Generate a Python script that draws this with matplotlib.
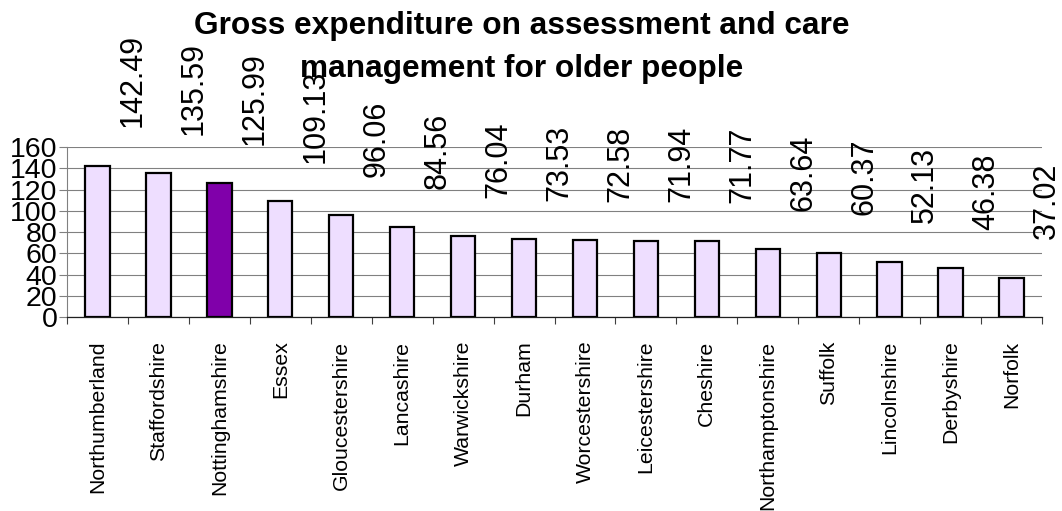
import numpy as np
import matplotlib
matplotlib.use("Agg")
import matplotlib.pyplot as plt

plt.rcParams["font.family"] = ["Liberation Sans", "DejaVu Sans"]

# spend per council, highest first
councils = ["Northumberland", "Staffordshire", "Nottinghamshire", "Essex",
            "Gloucestershire", "Lancashire", "Warwickshire", "Durham",
            "Worcestershire", "Leicestershire", "Cheshire", "Northamptonshire",
            "Suffolk", "Lincolnshire", "Derbyshire", "Norfolk"]
spend = [142.49, 135.59, 125.99, 109.13, 96.06, 84.56, 76.04, 73.53,
         72.58, 71.94, 71.77, 63.64, 60.37, 52.13, 46.38, 37.02]
highlight = "Nottinghamshire"

LIGHT = "#EEDEFF"
DARK = "#8000AA"

fig = plt.figure(figsize=(10.62, 5.11), dpi=100)
ax = fig.add_axes([67 / 1062, 194 / 511, 975 / 1062, 170 / 511])

x = np.arange(len(councils))
colors = [DARK if c == highlight else LIGHT for c in councils]
ax.bar(x, spend, width=0.4, color=colors, edgecolor="black", linewidth=1.6, zorder=3)

# value labels sit up and to the right of each bar
for xi, v in zip(x, spend):
    ax.annotate(f"{v:.2f}", xy=(xi, v), xytext=(25.5, 27.5), textcoords="offset points",
                rotation=90, ha="center", va="bottom", fontsize=22, annotation_clip=False)

ax.set_xlim(-0.5, len(councils) - 0.5)
ax.set_ylim(0, 160)
ax.set_yticks(np.arange(0, 161, 20))
ax.yaxis.grid(True, color="#808080", linewidth=0.8, zorder=0)
ax.set_axisbelow(True)

ax.set_xticks(x)
ax.set_xticklabels(councils, rotation=90, fontsize=15.3, va="top", ha="center")
ax.set_xticks(np.arange(-0.5, len(councils)), minor=True)
ax.tick_params(axis="x", which="major", length=0, pad=17)
ax.tick_params(axis="x", which="minor", length=5, width=0.8, color="#404040")
ax.tick_params(axis="y", length=6, width=0.8, color="#808080", pad=1, labelsize=20.5)

for side in ("top", "right"):
    ax.spines[side].set_visible(False)
ax.spines["left"].set_color("#808080")
ax.spines["left"].set_linewidth(0.8)
ax.spines["bottom"].set_color("#202020")
ax.spines["bottom"].set_linewidth(0.9)

fig.text(522 / 1062, 1 - 11 / 511,
         "Gross expenditure on assessment and care\nmanagement for older people",
         ha="center", va="top", fontsize=22.8, fontweight="bold", linespacing=1.55)

fig.savefig("out.png", dpi=100)
